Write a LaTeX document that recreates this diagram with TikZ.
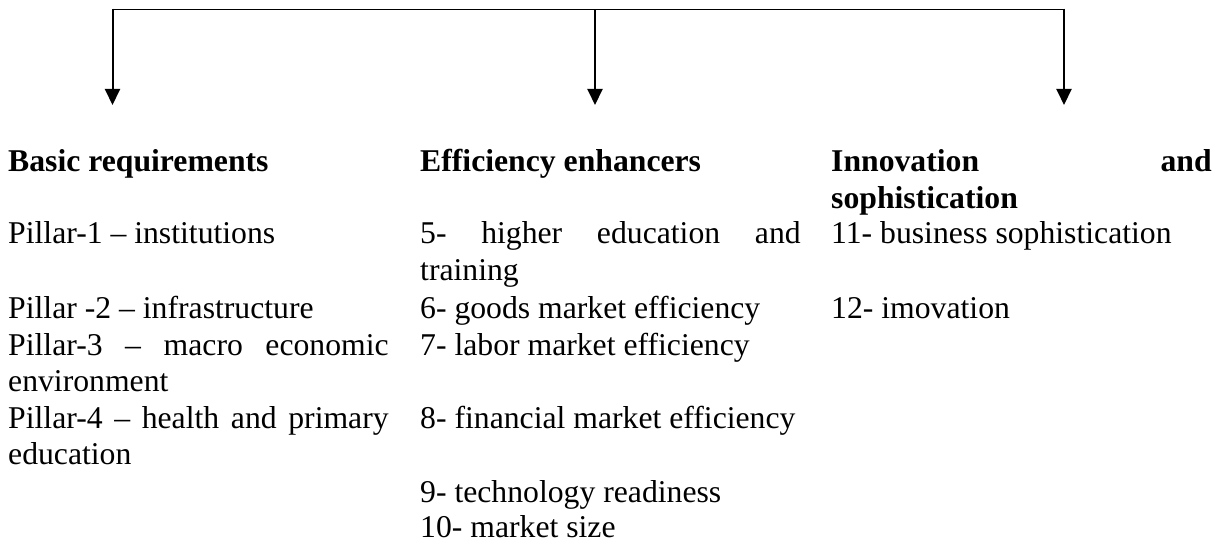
\documentclass[tikz,border=0pt]{standalone}
\usepackage{fontspec}
\setmainfont{Liberation Serif}[Ligatures={TeX,NoCommon}]
\usetikzlibrary{arrows.meta}
\newcommand\pillarfont{\fontsize{31.7}{36.6}\selectfont
  \spaceskip=.25em plus .8em minus .08em\xspaceskip=\spaceskip
  \hyphenpenalty=10000\exhyphenpenalty=10000\tolerance=1000}
\newcommand\groupfont{\fontsize{31.7}{36.6}\selectfont\bfseries
  \spaceskip=.25em plus 6em minus .08em\xspaceskip=\spaceskip
  \hyphenpenalty=10000\exhyphenpenalty=10000\tolerance=1000}
\begin{document}
\begin{tikzpicture}[x=1pt, y=-1pt,
    cell/.style={anchor=base west, inner sep=0pt, text width=380.5pt, align=justify, font=\pillarfont},
    group/.style={cell, font=\groupfont},
    branch/.style={line width=2pt, -{Triangle[length=16pt,width=15pt]}}]
  \useasboundingbox (0,0) rectangle (1223,545);

  % Draw the branching arrows
  \coordinate (hub-left) at (112.5,9.3);
  \coordinate (hub-mid) at (595,9.3);
  \coordinate (hub-right) at (1064,9.3);
  \coordinate (tip-left) at (112.5,105);
  \coordinate (tip-mid) at (595,105);
  \coordinate (tip-right) at (1064,105);
  \draw[line width=1.3pt] (hub-left) -- (hub-right);
  \draw[branch] ([yshift=0.65pt]hub-left) -- (tip-left);
  \draw[branch] (hub-mid) -- (tip-mid);
  \draw[branch] ([yshift=0.65pt]hub-right) -- (tip-right);

  % Group headings
  \node[group] (basic) at (8,172) {Basic requirements};
  \node[group] (efficiency) at (420,172) {Efficiency enhancers};
  \node[group] (innovation) at (831,172) {Innovation and sophistication};

  % Pillars of the first group
  \node[cell] (pillar1) at (8,244) {Pillar-1 – institutions};
  \node[cell] (pillar2) at (8,318) {Pillar -2 – infrastructure};
  \node[cell] (pillar3) at (8,355) {Pillar-3 – macro economic environment};
  \node[cell] (pillar4) at (8,428) {Pillar-4 – health and primary education};

  % Pillars of the second group
  \node[cell] (pillar5) at (420,244) {5- higher education and training};
  \node[cell] (pillar6) at (420,318) {6- goods market efficiency};
  \node[cell] (pillar7) at (420,355) {7- labor market efficiency};
  \node[cell] (pillar8) at (420,428) {8- financial market efficiency};
  \node[cell] (pillar9) at (420,502) {9- technology readiness};
  \node[cell] (pillar10) at (420,537) {10- market size};

  % Pillars of the third group
  \node[cell] (pillar11) at (831,244) {11- business sophistication};
  \node[cell] (pillar12) at (831,318) {12- imovation};
\end{tikzpicture}
\end{document}
